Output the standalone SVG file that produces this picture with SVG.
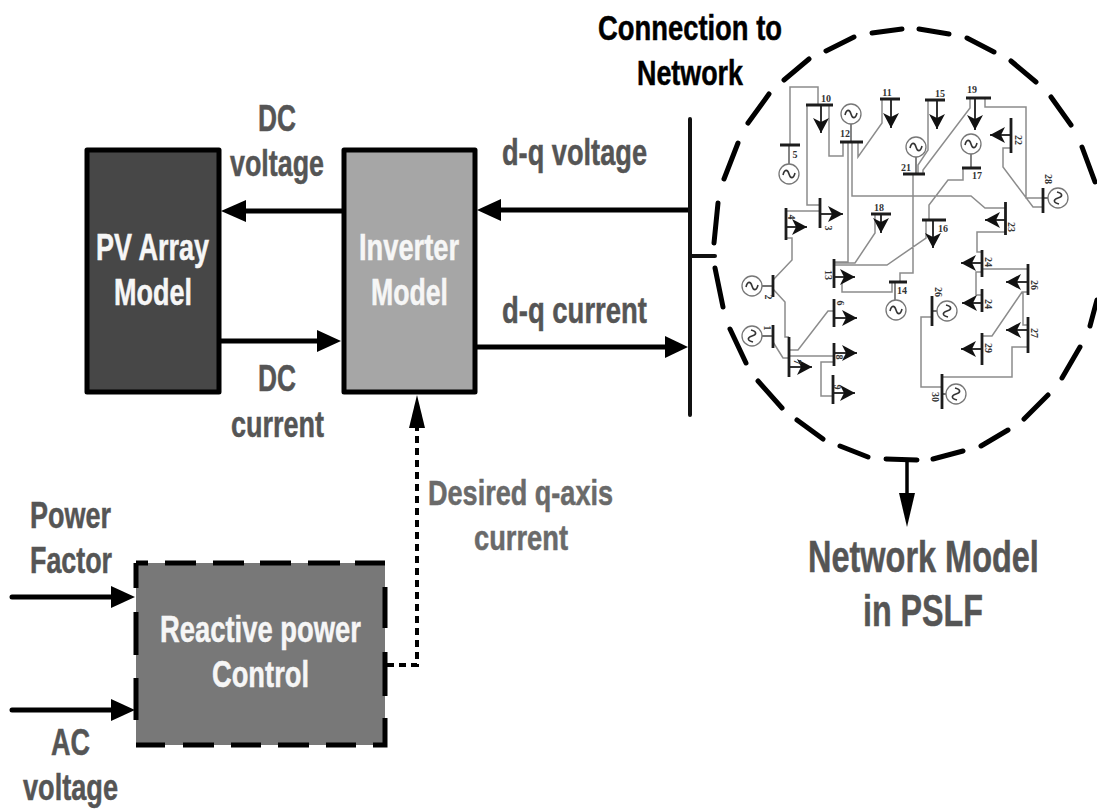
<svg xmlns="http://www.w3.org/2000/svg" width="1097" height="810" viewBox="0 0 1097 810">
<style>
.t{font-family:"Liberation Sans",Arial,sans-serif;font-weight:700;text-anchor:start;stroke-width:.5}
.k{fill:#000;stroke:#000}.g{fill:#555;stroke:#555}.g2{fill:#6a6a6a;stroke:#6a6a6a}.w{fill:#f6f6f6;stroke:#f6f6f6}
.f36{font-size:37px}.f34{font-size:35px}.f44{font-size:44px}
.box{stroke:#000;stroke-width:5;stroke-linejoin:round}
.wire{fill:none;stroke:#000;stroke-width:5}
.dash{fill:none;stroke:#000;stroke-width:5;stroke-linecap:round}
.dots{fill:none;stroke:#000;stroke-width:4;stroke-dasharray:7 5}
.bar{fill:none;stroke:#111;stroke-width:4;stroke-linecap:round}
.ln{fill:none;stroke:#8c8c8c;stroke-width:1.5}
.bus{fill:none;stroke:#1c1c1c;stroke-width:2.8}
.load{fill:none;stroke:#1c1c1c;stroke-width:1.8;marker-end:url(#barb)}
.gc{fill:#fff;stroke:#777;stroke-width:1.3}
.gs{fill:none;stroke:#333;stroke-width:1.6}
.gl{fill:none;stroke:#444;stroke-width:1.3}
.n{font-family:"Liberation Serif","Times New Roman",serif;font-size:10px;font-weight:700;fill:#333;text-anchor:middle}
</style>
<defs>
<marker id="barb" markerUnits="userSpaceOnUse" markerWidth="18" markerHeight="18" refX="15" refY="8" orient="auto"><path d="M0 0L15 8L0 16L4 8Z" fill="#111"/></marker>
<g id="gen"><circle class="gc" r="10"/><path class="gs" d="M-6 1C-4.500 -5 -1.500 -5 0 0S4.500 5 6 -1"/></g>
<g id="gen2"><circle class="gc" r="10"/><path class="gs" d="M-1 -6C5 -4.500 5 -1.500 0 0S-5 4.500 1 6"/></g>
</defs>

<g id="connectors">
<path class="wire" d="M342 211H240"/><polygon points="221,211 246,200 246,222"/>
<path class="wire" d="M221 341H322"/><polygon points="341,341 317,330 317,352"/>
<path class="wire" d="M690 210H495"/><polygon points="477,210 501,199 501,221"/>
<path class="wire" d="M477 347H670"/><polygon points="688,347 665,336 665,358"/>
<path class="wire" d="M12 597H115" stroke-linecap="round"/><polygon points="135,597 111,586 111,608"/>
<path class="wire" d="M12 710H115" stroke-linecap="round"/><polygon points="135,710 111,699 111,721"/>
<path class="dots" d="M387 665H417V425"/><polygon points="417,395 425,428 409,428"/>
<path class="bar" d="M690 119V415M692 256H715"/>
<path d="M907 460V500" fill="none" stroke="#000" stroke-width="3.500"/><polygon points="907,527 899,493 915,493"/>
</g>

<g id="pv-array">
<rect class="box" x="87" y="150" width="132" height="242" fill="#474747"/>
<text class="t w f36" x="96" y="260" textLength="113" lengthAdjust="spacingAndGlyphs">PV Array</text>
<text class="t w f36" x="114" y="305" textLength="78" lengthAdjust="spacingAndGlyphs">Model</text>
</g>
<g id="inverter">
<rect class="box" x="344" y="150" width="131" height="242" fill="#a6a6a6"/>
<text class="t w f36" x="359" y="260" textLength="100" lengthAdjust="spacingAndGlyphs">Inverter</text>
<text class="t w f36" x="371" y="305" textLength="77" lengthAdjust="spacingAndGlyphs">Model</text>
</g>
<g id="reactive-power">
<rect x="136" y="563" width="249" height="182" fill="#787878"/>
<path class="wire" d="M136 563H148M165 563H196M213 563H244M260 563H291M308 563H340M355 563H385M385 587V628M385 652V696M385 718V745H373M356 745H326M309 745H278M261 745H231M214 745H183M165 745H136M136 720V678M136 655V612M136 588V563"/>
<text class="t w f36" x="160" y="642" textLength="201" lengthAdjust="spacingAndGlyphs">Reactive power</text>
<text class="t w f36" x="212" y="687" textLength="97" lengthAdjust="spacingAndGlyphs">Control</text>
</g>

<g id="labels">
<text class="t g f36" x="258" y="131" textLength="38" lengthAdjust="spacingAndGlyphs">DC</text>
<text class="t g f36" x="230" y="176" textLength="94" lengthAdjust="spacingAndGlyphs">voltage</text>
<text class="t g f36" x="258" y="391" textLength="38" lengthAdjust="spacingAndGlyphs">DC</text>
<text class="t g f36" x="231" y="437" textLength="93" lengthAdjust="spacingAndGlyphs">current</text>
<text class="t g f36" x="502" y="165" textLength="145" lengthAdjust="spacingAndGlyphs">d-q voltage</text>
<text class="t g f36" x="502" y="323" textLength="145" lengthAdjust="spacingAndGlyphs">d-q current</text>
<text class="t k f34" x="598" y="40" textLength="184" lengthAdjust="spacingAndGlyphs">Connection to</text>
<text class="t k f34" x="637" y="85" textLength="106" lengthAdjust="spacingAndGlyphs">Network</text>
<text class="t g f36" x="30" y="528" textLength="81" lengthAdjust="spacingAndGlyphs">Power</text>
<text class="t g f36" x="30" y="573" textLength="82" lengthAdjust="spacingAndGlyphs">Factor</text>
<text class="t g f36" x="51" y="755" textLength="39" lengthAdjust="spacingAndGlyphs">AC</text>
<text class="t g f36" x="23" y="800" textLength="95" lengthAdjust="spacingAndGlyphs">voltage</text>
<text class="t g2 f34" x="428" y="505" textLength="185" lengthAdjust="spacingAndGlyphs">Desired q-axis</text>
<text class="t g2 f34" x="474" y="550" textLength="94" lengthAdjust="spacingAndGlyphs">current</text>
<text class="t g f44" transform="translate(808,572) scale(.738,1)">Network Model</text>
<text class="t g f44" x="863" y="626" textLength="120" lengthAdjust="spacingAndGlyphs">in PSLF</text>
</g>

<g id="network">
<path class="dash" d="M738 143L724 179M718 203L714 243M715 268L723 307M730 329L746 363M758 381L782 408M797 420L823 439M840 446L868 457M886 459L917 460M933 459L963 451M981 446L1008 430M1024 419L1048 395M1062 378L1080 347M1090 326L1097 300M748 123L769 94M784 80L809 59M826 51L854 37M872 33L902 29M919 29L949 34M967 38L994 52M1011 61L1036 82M1051 97L1071 125M1082 147L1095 182"/>
<path class="ln" d="M790 145V87H818V105M807 105V205H820M829 105V156H843V142M858 142V157L882 123V99M928 100V150L918 165V174M923 174V170L970 108V99M985 98V107H1026V198H1043M963 168V180H948L929 205V220M926 220V238L887 265H835M875 214V233L855 263H835M848 142V262H835M852 142V196H971L985 208H1005M1005 232H977V252H982M1011 148H1003V167L1033 207H1043M913 174V273H900V282M892 282V292H842V283M820 211H786M786 238H792V260L773 280M773 289L785 302V337H789M773 342L783 358H789M789 350H798L828 311H834M789 356H834M834 362H821V396H833M982 269H1028M982 272H976V295H982M982 336H992L1022 292H1028M1023 292V325H1028M1028 347H1012V377H942M942 387H921V317H932"/>
<path class="gl" d="M789 145V164M851 124V142M916 157V175M971 154V168M1043 198H1048M895 282V300M762 286H773M762 336H773M943 311H932M946 394H942"/>
<path class="bus" d="M806 105H833M780 145H800M840 142H863M880 99H900M925 100H945M903 174H925M966 98H991M962 168H981M922 220H946M871 214H891M889 282H907M1005.500 202V235M1011 118V153M1043 188V213M834 259V288M820 198V228M786 208V240M773 275V297M789 337V377M773 325V348M834 299V327M834 343V366M833 375V404M982 250V277M1028 264V295M982 289V312M982 333V365M1028 317V353M942 374V409M932 296V326"/>
<path class="load" d="M821 105V133"/><path class="load" d="M891 99V128"/><path class="load" d="M937 100V129"/><path class="load" d="M975 98V130"/><path class="load" d="M933 220V248"/><path class="load" d="M881 214V233"/><path class="load" d="M1005 220H985"/><path class="load" d="M1011 135H990"/><path class="load" d="M834 277H855"/><path class="load" d="M820 214H843"/><path class="load" d="M786 227H807"/><path class="load" d="M789 367H812"/><path class="load" d="M834 318H857"/><path class="load" d="M834 353H857"/><path class="load" d="M833 393H855"/><path class="load" d="M982 263H961"/><path class="load" d="M1028 282H1006"/><path class="load" d="M982 303H962"/><path class="load" d="M982 349H961"/><path class="load" d="M1028 330H1006"/>
<use href="#gen" x="789" y="174"/><use href="#gen" x="851" y="114"/><use href="#gen" x="916" y="147"/><use href="#gen" x="971" y="144"/><use href="#gen" x="896" y="310"/><use href="#gen" x="752" y="286"/>
<use href="#gen2" x="1058" y="198"/><use href="#gen2" x="752" y="336"/><use href="#gen2" x="947" y="311"/><use href="#gen2" x="956" y="394"/>
<text class="n" x="826" y="102">10</text><text class="n" x="795" y="158">5</text><text class="n" x="845" y="137">12</text><text class="n" x="887" y="96">11</text><text class="n" x="940" y="97">15</text><text class="n" x="972" y="93">19</text><text class="n" x="906" y="171">21</text><text class="n" x="977" y="179">17</text><text class="n" x="943" y="232">16</text><text class="n" x="879" y="211">18</text><text class="n" x="902" y="294">14</text>
<text class="n" transform="translate(1015,140) rotate(90)">22</text>
<text class="n" transform="translate(1008,227) rotate(90)">23</text>
<text class="n" transform="translate(1045,179) rotate(90)">28</text>
<text class="n" transform="translate(985,262) rotate(90)">24</text>
<text class="n" transform="translate(985,304) rotate(90)">24</text>
<text class="n" transform="translate(1031,285) rotate(90)">26</text>
<text class="n" transform="translate(985,348) rotate(90)">29</text>
<text class="n" transform="translate(1031,333) rotate(90)">27</text>
<text class="n" transform="translate(935,292) rotate(90)">26</text>
<text class="n" transform="translate(932,397) rotate(90)">30</text>
<text class="n" transform="translate(825,275) rotate(90)">13</text>
<text class="n" transform="translate(825,228) rotate(90)">3</text>
<text class="n" transform="translate(788,217) rotate(90)">4</text>
<text class="n" transform="translate(765,297) rotate(90)">2</text>
<text class="n" transform="translate(764,328) rotate(90)">1</text>
<text class="n" transform="translate(794,362) rotate(90)">7</text>
<text class="n" transform="translate(837,303) rotate(90)">6</text>
<text class="n" transform="translate(836,357) rotate(90)">8</text>
<text class="n" transform="translate(834,387) rotate(90)">9</text>
</g>
</svg>
